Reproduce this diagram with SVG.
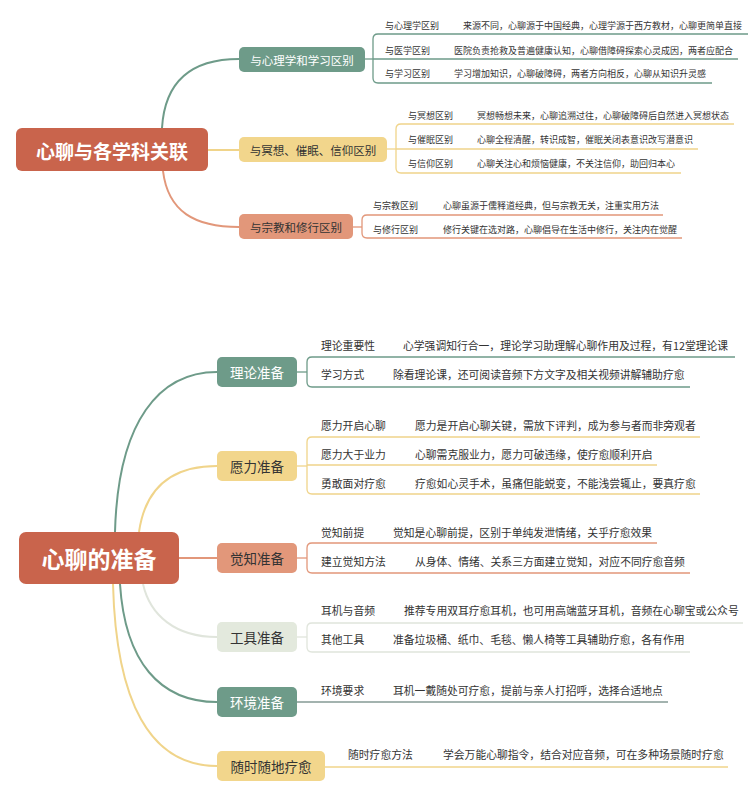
<svg xmlns="http://www.w3.org/2000/svg" width="753" height="807" viewBox="0 0 753 807">
<style>
text{font-family:"Noto Sans CJK SC","Liberation Sans",sans-serif;dominant-baseline:central;fill:#333}
.root{fill:#C9644C}
.rt{fill:#fff;font-weight:bold;text-anchor:middle}
.teal{fill:#6E9B89}.yel{fill:#F2D68C}.sal{fill:#E2977A}.lgt{fill:#E3E9DD}
.bt{text-anchor:middle}
.bw{fill:#fff}
.c{fill:none;stroke-width:2}
.l{fill:none;stroke-width:1.3}
.sT{stroke:#6E9B89}.sY{stroke:#F0D48A}.sS{stroke:#E2977A}.sL{stroke:#E0E5DC}
.t9{font-size:9px}.t11{font-size:10.8px}
</style>
<rect width="753" height="807" fill="#fff"/>
<g id="connectors">
<path class="c sT" d="M162,128 C165,78 195,59 239,59"/>
<path class="c sY" d="M208,150 L239,150"/>
<path class="c sS" d="M163,171 C168,212 195,227 239,227"/>
<path class="c sT" d="M115,532 C118,420 160,372 217,372"/>
<path class="c sY" d="M139,532 C145,490 170,466 217,466"/>
<path class="c sS" d="M179,558 L217,558"/>
<path class="c sL" d="M143,584 C150,615 175,637 217,637"/>
<path class="c sT" d="M120,584 C125,662 160,702 217,702"/>
<path class="c sY" d="M113,584 C116,702 150,766 217,766"/>
<path class="l sT" d="M365,59 H373"/>
<path class="l sY" d="M387,149 H396"/>
<path class="l sS" d="M353,227 H362"/>
<path class="l sT" d="M297,372 H307"/>
<path class="l sY" d="M297,466 H307"/>
<path class="l sS" d="M297,558 H307"/>
<path class="l sL" d="M297,637 H307"/>
</g>
<g id="root1"><rect class="root" x="16" y="128" width="192" height="43" rx="6"/><text class="rt" x="112" y="150" font-size="19">心聊与各学科关联</text></g>
<g id="b1"><rect class="teal" x="239" y="47" width="126" height="25" rx="5"/><text class="bt bw" x="302" y="59.5" font-size="11.5">与心理学和学习区别</text></g>
<g id="b2"><rect class="yel" x="239" y="137" width="148" height="25" rx="5"/><text class="bt" x="313" y="149.5" font-size="11.5">与冥想、催眠、信仰区别</text></g>
<g id="b3"><rect class="sal" x="239" y="214" width="114" height="25" rx="5"/><text class="bt" x="296" y="226.5" font-size="11.5">与宗教和修行区别</text></g>
<g id="b1-leaves">
<path class="l sT" d="M748,34 H378 Q373,34 373,39 V78 Q373,83 378,83 H712 M373,59 H738"/>
<text class="t9" x="385" y="25">与心理学区别</text><text class="t9" x="463" y="25">来源不同，心聊源于中国经典，心理学源于西方教材，心聊更简单直接</text>
<text class="t9" x="385" y="50">与医学区别</text><text class="t9" x="454" y="50">医院负责抢救及普遍健康认知，心聊借障碍探索心灵成因，两者应配合</text>
<text class="t9" x="385" y="73">与学习区别</text><text class="t9" x="454" y="73">学习增加知识，心聊破障碍，两者方向相反，心聊从知识升灵感</text>
</g>
<g id="b2-leaves">
<path class="l sY" d="M734,124 H401 Q396,124 396,129 V168 Q396,173 401,173 H681 M396,149 H698"/>
<text class="t9" x="408" y="115">与冥想区别</text><text class="t9" x="477" y="115">冥想畅想未来，心聊追溯过往，心聊破障碍后自然进入冥想状态</text>
<text class="t9" x="408" y="139">与催眠区别</text><text class="t9" x="477" y="139">心聊全程清醒，转识成智，催眠关闭表意识改写潜意识</text>
<text class="t9" x="408" y="163">与信仰区别</text><text class="t9" x="477" y="163">心聊关注心和烦恼健康，不关注信仰，助回归本心</text>
</g>
<g id="b3-leaves">
<path class="l sS" d="M663,215 H367 Q362,215 362,220 V233 Q362,238 367,238 H682"/>
<text class="t9" x="373" y="205">与宗教区别</text><text class="t9" x="443" y="205">心聊虽源于儒释道经典，但与宗教无关，注重实用方法</text>
<text class="t9" x="373" y="229">与修行区别</text><text class="t9" x="443" y="229">修行关键在选对路，心聊倡导在生活中修行，关注内在觉醒</text>
</g>
<g id="root2"><rect class="root" x="19" y="532" width="160" height="52" rx="7"/><text class="rt" x="99" y="558" font-size="23">心聊的准备</text></g>
<g id="n1"><rect class="teal" x="217" y="357" width="80" height="30" rx="5"/><text class="bt bw" x="257" y="372" font-size="13.5">理论准备</text></g>
<g id="n2"><rect class="yel" x="217" y="451" width="80" height="30" rx="5"/><text class="bt" x="257" y="466" font-size="13.5">愿力准备</text></g>
<g id="n3"><rect class="sal" x="217" y="543" width="80" height="30" rx="5"/><text class="bt" x="257" y="558" font-size="13.5">觉知准备</text></g>
<g id="n4"><rect class="lgt" x="217" y="622" width="80" height="30" rx="5"/><text class="bt" x="257" y="637" font-size="13.5">工具准备</text></g>
<g id="n5"><rect class="teal" x="217" y="687" width="80" height="30" rx="5"/><text class="bt bw" x="257" y="702" font-size="13.5">环境准备</text></g>
<g id="n6"><rect class="yel" x="217" y="751" width="108" height="30" rx="5"/><text class="bt" x="271" y="766" font-size="13.5">随时随地疗愈</text></g>
<g id="n1-leaves">
<path class="l sT" d="M735,357 H312 Q307,357 307,362 V382 Q307,387 312,387 H690"/>
<text class="t11" x="321" y="345">理论重要性</text><text class="t11" x="403" y="345">心学强调知行合一，理论学习助理解心聊作用及过程，有12堂理论课</text>
<text class="t11" x="321" y="374">学习方式</text><text class="t11" x="393" y="374">除看理论课，还可阅读音频下方文字及相关视频讲解辅助疗愈</text>
</g>
<g id="n2-leaves">
<path class="l sY" d="M700,437 H312 Q307,437 307,442 V489 Q307,494 312,494 H700 M307,465 H657"/>
<text class="t11" x="321" y="425">愿力开启心聊</text><text class="t11" x="415" y="425">愿力是开启心聊关键，需放下评判，成为参与者而非旁观者</text>
<text class="t11" x="321" y="454">愿力大于业力</text><text class="t11" x="415" y="454">心聊需克服业力，愿力可破违缘，使疗愈顺利开启</text>
<text class="t11" x="321" y="483">勇敢面对疗愈</text><text class="t11" x="415" y="483">疗愈如心灵手术，虽痛但能蜕变，不能浅尝辄止，要真疗愈</text>
</g>
<g id="n3-leaves">
<path class="l sS" d="M657,543 H312 Q307,543 307,548 V568 Q307,573 312,573 H690"/>
<text class="t11" x="321" y="532">觉知前提</text><text class="t11" x="393" y="532">觉知是心聊前提，区别于单纯发泄情绪，关乎疗愈效果</text>
<text class="t11" x="321" y="561">建立觉知方法</text><text class="t11" x="415" y="561">从身体、情绪、关系三方面建立觉知，对应不同疗愈音频</text>
</g>
<g id="n4-leaves">
<path class="l sL" d="M743,623 H312 Q307,623 307,628 V647 Q307,652 312,652 H690"/>
<text class="t11" x="321" y="610">耳机与音频</text><text class="t11" x="404" y="610">推荐专用双耳疗愈耳机，也可用高端蓝牙耳机，音频在心聊宝或公众号</text>
<text class="t11" x="321" y="639">其他工具</text><text class="t11" x="393" y="639">准备垃圾桶、纸巾、毛毯、懒人椅等工具辅助疗愈，各有作用</text>
</g>
<g id="n5-leaves">
<path class="l" stroke="#849A94" d="M297,702 H668"/>
<text class="t11" x="321" y="690">环境要求</text><text class="t11" x="393" y="690">耳机一戴随处可疗愈，提前与亲人打招呼，选择合适地点</text>
</g>
<g id="n6-leaves">
<path class="l sY" d="M325,767 H728"/>
<text class="t11" x="348" y="754">随时疗愈方法</text><text class="t11" x="443" y="754">学会万能心聊指令，结合对应音频，可在多种场景随时疗愈</text>
</g>
</svg>
